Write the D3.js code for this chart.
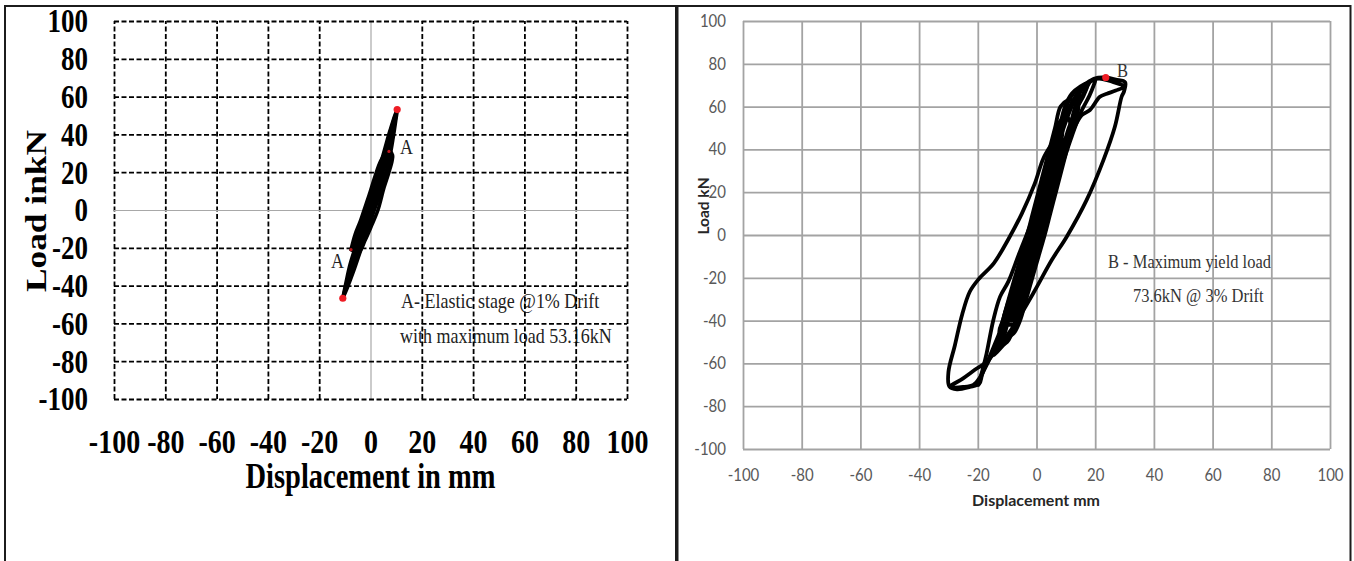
<!DOCTYPE html>
<html>
<head>
<meta charset="utf-8">
<script src="https://cdn.jsdelivr.net/npm/d3@7"></script>
<style>
  body { margin: 0; background: #fff; }
  svg { display: block; }
</style>
</head>
<body>
<svg id="chart" width="1354" height="561"></svg>
<script>
// ---- axis ticks (both panels) ----
const dispTicks = [-100, -80, -60, -40, -20, 0, 20, 40, 60, 80, 100];
const loadTicks = [-100, -80, -60, -40, -20, 0, 20, 40, 60, 80, 100];

// ---- left panel: elastic stage cycles, [displacement mm, load kN] ----
const elasticCycle1 = [[-7.6,-21],[-6,-13],[-4,-6],[-2.5,0],[-0.5,8],[1.8,18],[4,26],[6.5,31],[7.6,31],[8.6,29],[8.4,26],[7.2,20],[5.3,12],[2.9,0],[0.5,-8],[-2.1,-16],[-4.5,-22],[-7.6,-21]];
const elasticCycle2 = [[-10.8,-46.7],[-9.5,-38],[-8,-29],[-6,-20],[-3.5,-8],[-1.5,0],[0.8,10],[3,20],[5.5,32],[7.6,42],[10.4,53.16],[9.8,47],[8.8,38],[7.5,28],[5.5,17],[3,6],[1.5,0],[-1,-10],[-3.5,-20],[-6.5,-32],[-9,-41],[-10.8,-46.7]];
const elasticCycle3 = [[-10.5,-45],[-8.5,-35],[-6,-23],[-3,-10],[-0.8,0],[1.5,10],[4,22],[6.5,35],[8.5,45],[10.2,52],[9,43],[7,32],[5,21],[2.2,8],[0.5,0],[-1.8,-10],[-4.5,-22],[-7.5,-34],[-10.5,-45]];
const elasticCycle4 = [[-7.3,-21],[-5.5,-14],[-3.2,-5],[-1.8,0],[0.5,9],[3,19],[5.5,27],[7.6,31],[8,28],[6.5,21],[4.5,13],[2.2,3],[1,0],[-1.5,-8],[-4,-15],[-7.3,-21]];
const elasticCycle5 = [[-6,-19],[-4.5,-12],[-2,-4],[0,2],[2.5,12],[5,22],[7.2,29],[7.5,27],[5.8,19],[3.5,10],[1.5,2],[-0.5,-6],[-3,-13],[-6,-19]];
const elasticPeaks = [[10.4, 53.16], [-10.8, -46.7]];
const elasticPointsA = [[7.2, 31], [-7.6, -21]];

// ---- right panel: cycles up to 3% drift, [displacement mm, load kN] ----
const yieldCycle1 = [[-5.6,-25],[-5.4,-20],[-3.3,-10],[-1.2,0],[0.7,10],[2.6,20],[4.8,29],[5.8,30],[5.6,27],[4.6,20],[2.7,10],[0.8,0],[-1.3,-10],[-3.4,-20],[-4.8,-24],[-5.6,-25]];
const yieldCycle2 = [[-7.8,-35],[-8.5,-30],[-6.4,-20],[-4.3,-10],[-2.2,0],[-0.3,10],[1.6,20],[3.5,30],[5.4,40],[7.2,44.5],[8.6,45],[9.4,40],[7.5,30],[5.6,20],[3.7,10],[1.8,0],[-0.3,-10],[-2.4,-20],[-4.5,-30],[-6.2,-34],[-7.8,-35]];
const yieldCycle3 = [[-9.3,-42],[-11.1,-40],[-9,-30],[-6.9,-20],[-4.8,-10],[-2.7,0],[-0.8,10],[1.1,20],[3,30],[4.9,40],[6.8,50],[9,54.5],[10.5,55],[11.8,50],[9.9,40],[8,30],[6.1,20],[4.2,10],[2.3,0],[0.2,-10],[-1.9,-20],[-4,-30],[-6.1,-40],[-8,-41.8],[-9.3,-42]];
const yieldCycle4 = [[-10.5,-48],[-12.6,-45],[-11.5,-40],[-9.5,-30],[-7.4,-20],[-5.3,-10],[-3.2,0],[-1.3,10],[0.6,20],[2.5,30],[4.4,40],[6.3,50],[8.2,60],[10.5,62.8],[12,63],[14.2,60],[12.3,50],[10.4,40],[8.5,30],[6.6,20],[4.7,10],[2.8,0],[0.7,-10],[-1.4,-20],[-3.5,-30],[-5.6,-40],[-7.8,-46],[-10.5,-48]];
const yieldCycle5 = [[-12.5,-52],[-11.7,-50],[-9.6,-40],[-7.5,-30],[-5.4,-20],[-3.3,-10],[-1.2,0],[0.7,10],[2.6,20],[4.5,30],[6.4,40],[8.3,50],[10.2,60],[12.5,66],[14.5,68],[14.6,65],[13.2,60],[11.3,50],[9.4,40],[7.5,30],[5.6,20],[3.7,10],[1.8,0],[-0.3,-10],[-2.4,-20],[-4.5,-30],[-6.6,-40],[-10,-50],[-12.5,-52]];
const yieldCycle6 = [[-14.5,-56],[-12.2,-50],[-10.1,-40],[-8,-30],[-5.9,-20],[-3.8,-10],[-1.7,0],[0.2,10],[2.1,20],[4,30],[5.9,40],[7.8,50],[9.7,60],[12,66],[15,69.5],[17.5,71],[16,65],[14,60],[11,50],[8.9,40],[7,30],[5.1,20],[3.2,10],[1.3,0],[-0.8,-10],[-2.9,-20],[-5,-30],[-7.1,-40],[-10.5,-50],[-14.5,-56]];
const yieldCycle7 = [[-9.1,-40],[-7,-30],[-4.9,-20],[-2.8,-10],[-0.7,0],[1.2,10],[3.1,20],[5,30],[6.9,40],[9,50],[7.9,40],[6,30],[4.1,20],[2.2,10],[0.3,0],[-1.8,-10],[-3.9,-20],[-6,-30],[-8.1,-40],[-9.1,-40]];
const yieldCycle8 = [[-19.8,-70],[-18.1,-61.5],[-17,-55.3],[-14.7,-39.7],[-12.4,-28.8],[-9.6,-21.8],[-6,-9],[-2,5],[3,24],[8,45],[12,60],[15,67],[18,71.5],[20,72.5],[19.5,70],[18,65],[15,57],[12,46],[8,30],[3,10],[-2,-10],[-7,-30],[-12,-46],[-16,-58],[-18.5,-65],[-19.8,-70]];
const yieldCycle9 = [
  [0,0],[4,17],[8,35],[12,52],[15,63],[18.8,72.4],[21,73.5],[23.6,73.6],[27,72.6],[30.2,71.4],
  [29.8,67],[29,64.6],[26.7,50.6],[22.8,35],[17.1,16.4],[10.3,-0.8],[5.2,-11.7],[-1.1,-27.2],[-7.9,-42.8],[-13.6,-53.7],[-16.8,-59.5],[-18.5,-65],[-19.5,-69.5],[-22.7,-71],[-27.1,-72.1],[-29.7,-70.7],
  [-30,-64],[-27.8,-51.5],[-25.3,-37],[-22.7,-26.4],[-19.7,-20.6],[-14.5,-13.1],[-9.4,-1.5],[-5,10],[-0.6,24],[2.4,36],[6.8,46.3],[11.2,59.7],[14.9,68],[18.8,72.4],[22,73],[26,71.5],[30,69.5],
  [27,67.5],[24,66],[21.6,64.6],[18.2,58.4],[15.4,56],[12.5,49],[8,32],[4,15],[0,-2],[-4,-17],[-8,-30],[-11.5,-42],[-14.5,-52],[-17,-60],[-19.5,-67],[-21.5,-70],[-25,-71],[-29.5,-71],
  [-25,-67],[-21,-63],[-16.4,-58.4],[-13,-47],[-10,-33],[-6,-17],[-2,-2],[0,0]
];
const yieldPeak = [23.6, 73.6];

const elasticCycles = [elasticCycle1, elasticCycle2, elasticCycle3, elasticCycle4, elasticCycle5];
const yieldCycles = [yieldCycle1, yieldCycle2, yieldCycle3, yieldCycle4, yieldCycle5, yieldCycle6, yieldCycle7, yieldCycle8, yieldCycle9];

const svg = d3.select('#chart');
const SERIF = "'Liberation Serif', 'Times New Roman', serif";
const SANS = "Lato, 'Open Sans', sans-serif";
const fmt = d => String(d);

// ---- panel frames ----
svg.append('rect').attr('x', 5).attr('y', 6).attr('width', 671).attr('height', 600)
  .attr('fill', 'none').attr('stroke', '#1c1c1c').attr('stroke-width', 2);
svg.append('rect').attr('x', 677.5).attr('y', 6).attr('width', 673).attr('height', 600)
  .attr('fill', 'none').attr('stroke', '#1c1c1c').attr('stroke-width', 2);

// =================== LEFT PANEL ===================
const xL = d3.scaleLinear().domain([-100, 100]).range([114, 627]);
const yL = d3.scaleLinear().domain([-100, 100]).range([399, 21]);
const stretchL = 1.22;

// annotation text sits beneath the grid
const noteL = svg.append('g').attr('font-family', SERIF).attr('fill', '#222').attr('font-size', 18);
noteL.append('text').attr('transform', 'translate(401,308) scale(1,1.15)').text('A- Elastic stage @1% Drift');
noteL.append('text').attr('transform', 'translate(400,343) scale(1,1.15)').text('with maximum load 53.16kN');
noteL.append('text').attr('transform', 'translate(400,154) scale(1,1.15)').text('A');
noteL.append('text').attr('transform', 'translate(331,268) scale(1,1.15)').text('A');

// dashed grid
const gridLx = svg.append('g').attr('transform', `translate(0,${yL(-100)})`)
  .call(d3.axisBottom(xL).tickValues(dispTicks).tickSize(-(yL(-100) - yL(100))).tickSizeOuter(0).tickFormat(''));
const gridLy = svg.append('g').attr('transform', `translate(${xL(-100)},0)`)
  .call(d3.axisLeft(yL).tickValues(loadTicks).tickSize(-(xL(100) - xL(-100))).tickSizeOuter(0).tickFormat(''));
[gridLx, gridLy].forEach(g => {
  g.select('.domain').remove();
  g.selectAll('.tick line')
    .attr('stroke', d => d === 0 ? '#a8a8a8' : '#000')
    .attr('stroke-width', d => d === 0 ? 1.2 : 1.8)
    .attr('stroke-dasharray', d => d === 0 ? null : '5,2.5');
});

// tick labels
const labLx = svg.append('g').attr('transform', 'translate(0,453)')
  .call(d3.axisBottom(xL).tickValues(dispTicks).tickSize(0).tickPadding(0).tickFormat(fmt));
labLx.select('.domain').remove();
labLx.selectAll('text').attr('y', 0).attr('dy', null)
  .attr('transform', `scale(1,${stretchL})`)
  .attr('font-family', SERIF).attr('font-weight', 'bold').attr('font-size', 28).attr('fill', '#000');

const labLy = svg.append('g').attr('transform', 'translate(88,0)')
  .call(d3.axisLeft(yL).tickValues(loadTicks).tickSize(0).tickPadding(0).tickFormat(fmt));
labLy.select('.domain').remove();
labLy.selectAll('.tick').each(function (d) {
  d3.select(this).attr('transform', `translate(0,${yL(d) + 11.3})`);
});
labLy.selectAll('text').attr('x', 0).attr('dy', null)
  .attr('transform', `scale(1,${stretchL})`)
  .attr('font-family', SERIF).attr('font-weight', 'bold').attr('font-size', 27).attr('fill', '#000');

// axis titles
svg.append('text').attr('transform', `translate(370.5,488) scale(1,${stretchL})`)
  .attr('text-anchor', 'middle').attr('font-family', SERIF).attr('font-weight', 'bold')
  .attr('font-size', 28.5).attr('fill', '#000').text('Displacement in mm');
svg.append('text').attr('transform', `translate(46,211) rotate(-90) scale(${stretchL},1)`)
  .attr('text-anchor', 'middle').attr('font-family', SERIF).attr('font-weight', 'bold')
  .attr('font-size', 29).attr('fill', '#000').text('Load inkN');

// curves
const lineL = d3.line().x(d => xL(d[0])).y(d => yL(d[1])).curve(d3.curveCatmullRom.alpha(0.5));
svg.append('g').selectAll('path').data(elasticCycles).join('path')
  .attr('d', lineL).attr('fill', 'none').attr('stroke', '#000')
  .attr('stroke-width', 3.6).attr('stroke-linejoin', 'round').attr('stroke-linecap', 'round');
svg.append('g').selectAll('circle').data(elasticPeaks).join('circle')
  .attr('cx', d => xL(d[0])).attr('cy', d => yL(d[1])).attr('r', 3.6).attr('fill', '#ee1c24');
svg.append('g').selectAll('circle').data(elasticPointsA).join('circle')
  .attr('cx', d => xL(d[0])).attr('cy', d => yL(d[1])).attr('r', 1.6).attr('fill', '#c0141b');

// =================== RIGHT PANEL ===================
const xR = d3.scaleLinear().domain([-100, 100]).range([743, 1330]);
const yR = d3.scaleLinear().domain([-100, 100]).range([449, 21]);
const gridColor = '#a3a3a3';

const gridRx = svg.append('g').attr('transform', `translate(0,${yR(-100)})`)
  .call(d3.axisBottom(xR).tickValues(dispTicks).tickSize(-(yR(-100) - yR(100))).tickSizeOuter(0).tickFormat(''));
const gridRy = svg.append('g').attr('transform', `translate(${xR(-100)},0)`)
  .call(d3.axisLeft(yR).tickValues(loadTicks).tickSize(-(xR(100) - xR(-100))).tickSizeOuter(0).tickFormat(''));
[gridRx, gridRy].forEach(g => {
  g.select('.domain').remove();
  g.selectAll('.tick line').attr('stroke', gridColor).attr('stroke-width', 1.8);
});

const labRx = svg.append('g').attr('transform', 'translate(0,481)')
  .call(d3.axisBottom(xR).tickValues(dispTicks).tickSize(0).tickPadding(0).tickFormat(fmt));
labRx.select('.domain').remove();
labRx.selectAll('text').attr('y', 0).attr('dy', null)
  .attr('transform', 'scale(1,1.12)')
  .attr('font-family', SANS).attr('font-size', 15).attr('fill', '#595959');

const labRy = svg.append('g').attr('transform', 'translate(726,0)')
  .call(d3.axisLeft(yR).tickValues(loadTicks).tickSize(0).tickPadding(0).tickFormat(fmt));
labRy.select('.domain').remove();
labRy.selectAll('.tick').each(function (d) {
  d3.select(this).attr('transform', `translate(0,${yR(d) + 6})`);
});
labRy.selectAll('text').attr('x', 0).attr('dy', null)
  .attr('transform', 'scale(1,1.12)')
  .attr('font-family', SANS).attr('font-size', 15).attr('fill', '#595959');

svg.append('text').attr('x', 1036).attr('y', 506).attr('text-anchor', 'middle')
  .attr('font-family', SANS).attr('font-weight', 'bold').attr('font-size', 16)
  .attr('fill', '#262626').text('Displacement mm');
svg.append('text').attr('transform', 'translate(709,206) rotate(-90)').attr('text-anchor', 'middle')
  .attr('font-family', SANS).attr('font-weight', 'bold').attr('font-size', 15.5)
  .attr('fill', '#262626').text('Load kN');

const noteR = svg.append('g').attr('font-family', SERIF).attr('fill', '#333').attr('font-size', 16.5);
noteR.append('text').attr('transform', 'translate(1108,268) scale(1,1.12)').text('B - Maximum yield load');
noteR.append('text').attr('transform', 'translate(1133,302) scale(1,1.12)').text('73.6kN @ 3% Drift');
noteR.append('text').attr('transform', 'translate(1117,77) scale(1,1.12)').text('B');

const lineR = d3.line().x(d => xR(d[0])).y(d => yR(d[1])).curve(d3.curveCatmullRom.alpha(0.5));
svg.append('g').selectAll('path').data(yieldCycles).join('path')
  .attr('d', lineR).attr('fill', 'none').attr('stroke', '#000')
  .attr('stroke-width', 3.8).attr('stroke-linejoin', 'round').attr('stroke-linecap', 'round');
svg.append('circle').attr('cx', xR(yieldPeak[0])).attr('cy', yR(yieldPeak[1]))
  .attr('r', 3.6).attr('fill', '#ee1c24');
</script>
</body>
</html>
